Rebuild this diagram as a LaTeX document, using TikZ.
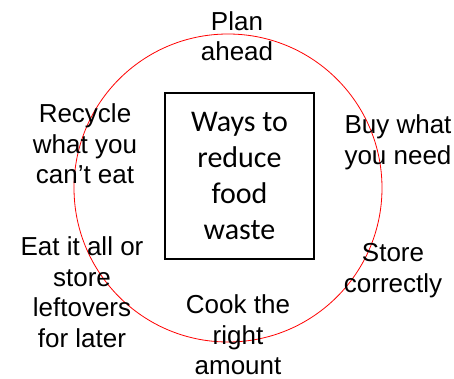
\documentclass[tikz,border=0pt]{standalone}
\usepackage{fontspec}
\setmainfont{Liberation Sans}
\newfontfamily\boxfont{Carlito}

\begin{document}
\begin{tikzpicture}[x=1pt, y=-1pt,
    tip/.style={align=center, inner sep=0pt, font=\fontsize{26}{30.5}\selectfont},
    ring/.style={red, line width=0.8pt}]
    \useasboundingbox (0,0) rectangle (454,379);
    \coordinate (mid) at (228,188);
    \draw[ring] (mid) circle (154pt);
    \node[draw, line width=1.8pt, minimum width=149pt, minimum height=166pt,
      align=center, font=\boxfont\fontsize{30}{36}\selectfont] (hub) at (239.5,176)
      {Ways to\\reduce\\food\\waste};
    % tips around the ring
    \node[tip] (plan) at (237,36) {Plan\\ahead};
    \node[tip] (buy) at (398,142.5) {Buy what\\you need};
    \node[tip] (store) at (393,270.5) {Store\\correctly};
    \node[tip] (cook) at (238,335) {Cook the\\right\\amount};
    \node[tip] (eat) at (82,292) {Eat it all or\\store\\leftovers\\for later};
    \node[tip] (recycle) at (85,144) {Recycle\\what you\\can’t eat};
\end{tikzpicture}
\end{document}
